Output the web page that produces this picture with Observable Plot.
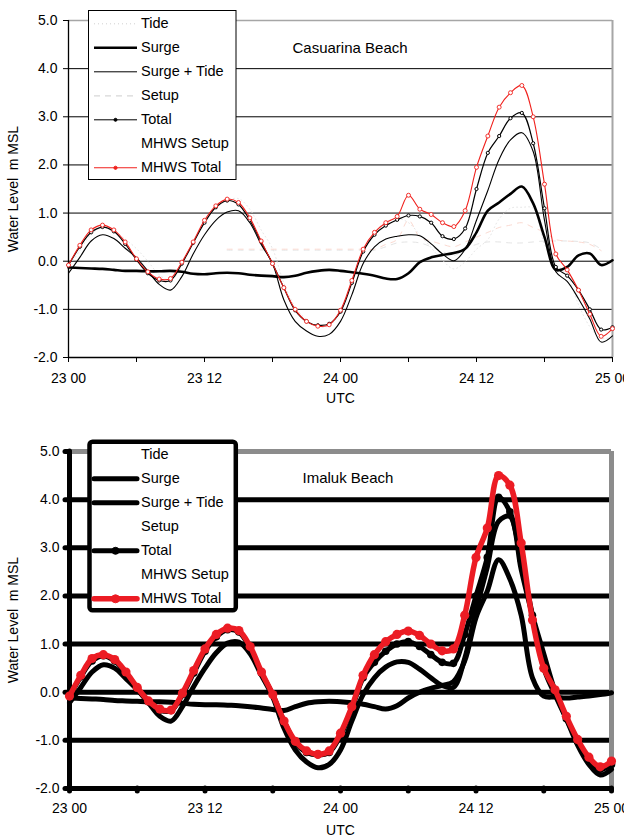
<!DOCTYPE html>
<html><head><meta charset="utf-8">
<script src="https://cdn.jsdelivr.net/npm/d3@7"></script>
<script src="https://cdn.jsdelivr.net/npm/@observablehq/plot@0.6"></script>
<style>
body{margin:0;background:#fff;font-family:"Liberation Sans",Arial,sans-serif;}
.panel{position:relative;width:624px;overflow:hidden;}
svg text{white-space:pre;}
</style></head><body>
<div id="top" class="panel" style="height:431px"></div>
<div id="bottom" class="panel" style="height:407px"></div>
<script>
// ---------- shared axes ----------
const hours = [0,1,2,3,4,5,6,7,8,9,10,11,12,13,14,15,16,17,18,19,20,21,22,23,24,25,26,27,28,29,30,31,32,33,34,35,36,37,38,39,40,41,42,43,44,45,46,47,48];
const xTickValues = [0,6,12,18,24,30,36,42,48];
const xTickLabels = {0:"23 00",12:"23 12",24:"24 00",36:"24 12",48:"25 00"};
const yTickValues = [-2,-1,0,1,2,3,4,5];
const gridValues = [-1,0,1,2,3,4];
const legendLabels = ["Tide","Surge","Surge + Tide","Setup","Total","MHWS Setup","MHWS Total"];
const yLabel = "Water Level  m MSL";
const xLabel = "UTC";

// ---------- Casuarina Beach ----------
const casTitle = "Casuarina Beach";
const casTide = [-0.12,0.22,0.56,0.70,0.63,0.46,0.26,0.00,-0.28,-0.40,-0.10,0.40,0.82,1.10,1.26,1.30,1.08,0.65,0.26,-0.45,-0.95,-1.21,-1.36,-1.34,-1.05,-0.47,0.21,0.60,0.82,0.89,0.80,0.55,0.28,0.02,-0.16,-0.01,0.25,0.45,0.88,1.10,1.12,1.10,0.35,-0.04,-0.30,-0.90,-1.36,-1.60,-1.57];
const casSurge = [-0.13,-0.14,-0.15,-0.16,-0.18,-0.20,-0.20,-0.21,-0.21,-0.20,-0.22,-0.26,-0.27,-0.25,-0.24,-0.25,-0.28,-0.30,-0.31,-0.33,-0.30,-0.24,-0.20,-0.18,-0.20,-0.23,-0.26,-0.30,-0.36,-0.37,-0.25,-0.02,0.08,0.13,0.17,0.26,0.60,1.05,1.22,1.40,1.55,1.20,0.50,-0.18,-0.12,0.12,0.16,-0.08,0.02];
const casSurgeTide = [-0.25,0.08,0.42,0.55,0.47,0.27,0.07,-0.20,-0.48,-0.60,-0.32,0.15,0.55,0.85,1.02,1.05,0.80,0.35,-0.05,-0.80,-1.25,-1.45,-1.56,-1.52,-1.25,-0.70,-0.05,0.30,0.46,0.52,0.55,0.53,0.36,0.15,0.01,0.25,0.85,1.47,2.12,2.52,2.67,2.28,0.85,-0.22,-0.42,-0.78,-1.20,-1.68,-1.55];
const casSetup = [null,null,null,null,null,null,null,null,null,null,null,null,null,null,0.23,0.23,0.23,0.23,0.23,0.23,0.23,0.23,0.23,0.23,0.23,0.23,0.23,0.23,0.30,0.38,0.40,0.38,0.30,0.20,0.12,0.25,0.35,0.40,0.40,0.38,0.38,0.40,0.42,0.42,0.42,0.41,0.38,0.25,null];
const casTotal = [-0.08,0.30,0.60,0.71,0.62,0.36,0.03,-0.25,-0.40,-0.40,-0.05,0.38,0.80,1.12,1.26,1.18,0.85,0.40,-0.05,-0.55,-1.02,-1.25,-1.33,-1.30,-1.05,-0.45,0.20,0.55,0.74,0.86,0.95,0.93,0.80,0.52,0.46,0.68,1.50,2.25,2.60,2.97,3.08,2.45,1.10,-0.12,-0.30,-0.60,-1.00,-1.42,-1.37];
const casMhwsSetup = [null,null,null,null,null,null,null,null,null,null,null,null,null,null,0.25,0.25,0.25,0.25,0.25,0.25,0.25,0.25,0.25,0.25,0.25,0.25,0.25,0.25,0.35,0.45,0.85,0.50,0.42,0.35,0.30,0.40,0.50,0.60,0.70,0.75,0.80,0.70,0.60,0.45,0.42,0.40,0.35,0.22,null];
const casMhwsTotal = [-0.08,0.33,0.65,0.75,0.65,0.40,0.05,-0.22,-0.37,-0.36,-0.02,0.40,0.85,1.15,1.29,1.22,0.90,0.42,-0.05,-0.55,-1.00,-1.25,-1.35,-1.32,-1.02,-0.40,0.25,0.60,0.80,0.93,1.37,1.08,0.97,0.80,0.72,1.05,1.95,2.60,3.20,3.50,3.65,3.00,1.60,0.15,-0.18,-0.60,-1.10,-1.56,-1.40];

// ---------- Imaluk Beach ----------
const imTitle = "Imaluk Beach";
const imSurge = [-0.12,-0.13,-0.14,-0.15,-0.17,-0.18,-0.19,-0.20,-0.20,-0.21,-0.23,-0.25,-0.26,-0.26,-0.27,-0.28,-0.30,-0.33,-0.36,-0.38,-0.30,-0.23,-0.20,-0.19,-0.20,-0.22,-0.25,-0.30,-0.35,-0.28,-0.12,0.00,0.08,0.14,0.22,0.65,1.55,2.10,2.75,2.35,1.60,0.30,-0.08,-0.10,-0.12,-0.10,-0.08,-0.05,-0.01];
const imSurgeTide = [-0.22,0.10,0.42,0.57,0.50,0.28,0.05,-0.22,-0.50,-0.60,-0.30,0.12,0.50,0.82,1.02,1.04,0.80,0.35,-0.10,-0.75,-1.20,-1.45,-1.57,-1.50,-1.20,-0.60,-0.05,0.30,0.52,0.63,0.62,0.48,0.30,0.14,0.10,0.70,1.70,2.60,3.55,3.65,2.55,1.60,0.80,0.02,-0.55,-1.10,-1.50,-1.72,-1.60];
const imTotal = [-0.08,0.32,0.65,0.76,0.65,0.40,0.07,-0.20,-0.37,-0.38,-0.05,0.40,0.85,1.15,1.30,1.25,0.92,0.40,-0.05,-0.60,-1.05,-1.25,-1.30,-1.25,-0.90,-0.35,0.30,0.62,0.85,1.00,1.05,0.95,0.78,0.62,0.60,1.20,2.00,2.80,4.05,3.75,2.75,1.60,0.50,-0.05,-0.55,-1.02,-1.40,-1.60,-1.50];
const imMhwsTotal = [-0.08,0.35,0.70,0.78,0.68,0.42,0.10,-0.18,-0.35,-0.37,-0.02,0.45,0.90,1.20,1.33,1.28,0.95,0.42,-0.05,-0.60,-1.02,-1.22,-1.29,-1.22,-0.85,-0.30,0.35,0.78,1.05,1.20,1.27,1.18,1.00,0.86,0.90,1.60,2.80,3.41,4.50,4.30,3.10,1.50,0.50,0.05,-0.50,-0.98,-1.35,-1.55,-1.43];

const rows = arr => hours.map((h, i) => ({h, v: arr[i]}));
const FONT = "Liberation Sans, Arial, sans-serif";

function makeChart(cfg, S) {
  const marks = [
    Plot.ruleY(gridValues, {stroke: "#000", strokeWidth: S.gridW}),
    Plot.ruleY([5], {stroke: S.border, strokeWidth: S.borderW}),
    Plot.ruleX([48], {stroke: S.border, strokeWidth: S.rightW}),
    Plot.ruleY([-2], {stroke: "#000", strokeWidth: S.axisW}),
    Plot.ruleX([0], {stroke: "#000", strokeWidth: S.axisW, strokeLinecap: S.cap}),
    Plot.axisY(yTickValues, {tickSize: S.yTickSize, tickPadding: S.yTickPad, tickFormat: d => d.toFixed(1), fontSize: 14, label: null, stroke: "#000", strokeWidth: S.tickW, strokeLinecap: S.cap, fill: "#000"}),
    Plot.axisX(xTickValues, {tickSize: S.xTickSize, tickPadding: S.xTickPad, tickFormat: d => xTickLabels[d] ?? "", fontSize: 14, label: null, stroke: "#000", strokeWidth: S.tickW, strokeLinecap: S.cap, fill: "#000"})
  ];
  const L = (arr, o) => Plot.line(rows(arr), {x: "h", y: "v", curve: "catmull-rom", strokeLinejoin: "round", strokeLinecap: "round", ...o});
  if (cfg.tide) marks.push(L(cfg.tide, {stroke: "#e2e2e2", strokeWidth: 0.9, strokeDasharray: "1,3"}));
  if (cfg.setup) marks.push(L(cfg.setup, {stroke: "#e4e4e4", strokeWidth: 1, strokeDasharray: "5,6"}));
  if (cfg.mhwsSetup) marks.push(L(cfg.mhwsSetup, {stroke: "#fbd9d0", strokeWidth: 1, strokeDasharray: "5,6"}));
  marks.push(L(cfg.surge, {stroke: "#000", strokeWidth: S.surgeW}));
  marks.push(L(cfg.surgeTide, {stroke: "#000", strokeWidth: S.stW}));
  marks.push(L(cfg.total, {stroke: "#000", strokeWidth: S.totalW}));
  marks.push(Plot.dot(rows(cfg.total), {x: "h", y: "v", r: S.totalR, fill: S.totalFill, stroke: "#000", strokeWidth: S.totalDotSW}));
  marks.push(L(cfg.mhwsTotal, {stroke: S.red, strokeWidth: S.redW}));
  marks.push(Plot.dot(rows(cfg.mhwsTotal), {x: "h", y: "v", r: S.redR, fill: S.redFill, stroke: S.red, strokeWidth: S.redDotSW}));
  marks.push(Plot.text([cfg.title], {frameAnchor: "top-left", dx: S.titleDx, dy: S.titleDy, textAnchor: "start", lineAnchor: "middle", fontSize: 15, fill: "#000"}));
  marks.push(Plot.text([yLabel], {frameAnchor: "left", dx: S.yLabDx, rotate: -90, textAnchor: "middle", lineAnchor: "middle", fontSize: 14, fill: "#000"}));
  marks.push(Plot.text([xLabel], {frameAnchor: "bottom", dy: S.xLabDy, textAnchor: "middle", lineAnchor: "middle", fontSize: 14, fill: "#000"}));
  return Plot.plot({
    width: 624, height: S.height,
    marginLeft: S.ml, marginRight: S.mr, marginTop: 20, marginBottom: S.height - 357,
    style: {fontFamily: FONT, background: "white", overflow: "visible"},
    x: {domain: [0, 48]},
    y: {domain: [-2, 5]},
    marks
  });
}

function makeLegend(container, L) {
  const svg = d3.select(container).append("svg")
    .attr("width", 624).attr("height", 200)
    .style("position", "absolute").style("left", "0px").style("top", "0px")
    .style("font-family", FONT);
  svg.append("rect").attr("x", L.box[0]).attr("y", L.box[1]).attr("width", L.box[2]).attr("height", L.box[3])
    .attr("rx", L.rx).attr("fill", "white").attr("stroke", "#000").attr("stroke-width", L.boxW);
  legendLabels.forEach((lab, i) => {
    const base = 28.3 + 24 * i;
    const st = L.styles[i];
    if (st) {
      const y = base - 4.5;
      svg.append("line").attr("x1", 94).attr("x2", 137).attr("y1", y).attr("y2", y)
        .attr("stroke", st.stroke).attr("stroke-width", st.w)
        .attr("stroke-dasharray", st.dash || null).attr("stroke-linecap", st.cap || "butt");
      if (st.dot) svg.append("circle").attr("cx", 115.5).attr("cy", y).attr("r", st.dot)
        .attr("fill", st.dotFill || st.stroke).attr("stroke", st.stroke).attr("stroke-width", st.dotSW || 1);
    }
    svg.append("text").attr("x", 141).attr("y", base).attr("font-size", 14.5).attr("fill", "#000").text(lab);
  });
}

// ---------- top panel ----------
const topStyle = {height: 431, ml: 68, mr: 12, gridW: 1, border: "#a6a6a6", borderW: 1.5, rightW: 2, axisW: 1.3, tickW: 1, cap: "butt",
  yTickSize: 5, yTickPad: 6, xTickSize: 5, xTickPad: 11,
  surgeW: 2.6, stW: 1.1, totalW: 1.2, totalR: 1.6, totalFill: "#fff", totalDotSW: 1, red: "#f0201c", redW: 1.1, redR: 2, redFill: "#fff", redDotSW: 0.9,
  titleDx: 224, titleDy: 28, yLabDx: -55, xLabDx: 0, xLabDy: 41};
document.getElementById("top").appendChild(makeChart({title: casTitle, tide: casTide, surge: casSurge, surgeTide: casSurgeTide, setup: casSetup, total: casTotal, mhwsSetup: casMhwsSetup, mhwsTotal: casMhwsTotal}, topStyle));
makeLegend(document.getElementById("top"), {box: [88.5, 10.5, 147.5, 169], rx: 0, boxW: 1, styles: [
  {stroke: "#d0d0d0", w: 1, dash: "1,3"},
  {stroke: "#000", w: 2.6},
  {stroke: "#000", w: 1},
  {stroke: "#d8d8d8", w: 1.2, dash: "6,5"},
  {stroke: "#000", w: 1, dot: 1.5, dotFill: "#000"},
  null,
  {stroke: "#f0201c", w: 1.1, dot: 1.6, dotFill: "#f0201c"}
]});

// ---------- bottom panel ----------
const botStyle = {height: 407, ml: 69, mr: 13, gridW: 5, border: "#8c8c8c", borderW: 5, rightW: 5, axisW: 5, tickW: 5, cap: "round",
  yTickSize: 4, yTickPad: 6, xTickSize: 3, xTickPad: 12,
  surgeW: 5, stW: 5, totalW: 5, totalR: 3.8, totalFill: "#000", totalDotSW: 0, red: "#ec1c24", redW: 5.5, redR: 4.6, redFill: "#ec1c24", redDotSW: 0,
  titleDx: 233, titleDy: 27, yLabDx: -56, xLabDy: 42};
document.getElementById("bottom").appendChild(makeChart({title: imTitle, surge: imSurge, surgeTide: imSurgeTide, total: imTotal, mhwsTotal: imMhwsTotal}, botStyle));
makeLegend(document.getElementById("bottom"), {box: [89.5, 10.7, 146.3, 168.6], rx: 3, boxW: 4.5, styles: [
  null,
  {stroke: "#000", w: 5, cap: "round"},
  {stroke: "#000", w: 5, cap: "round"},
  null,
  {stroke: "#000", w: 5, cap: "round", dot: 3.5, dotFill: "#000"},
  null,
  {stroke: "#ec1c24", w: 5.5, cap: "round", dot: 4, dotFill: "#ec1c24"}
]});
</script>
</body></html>
